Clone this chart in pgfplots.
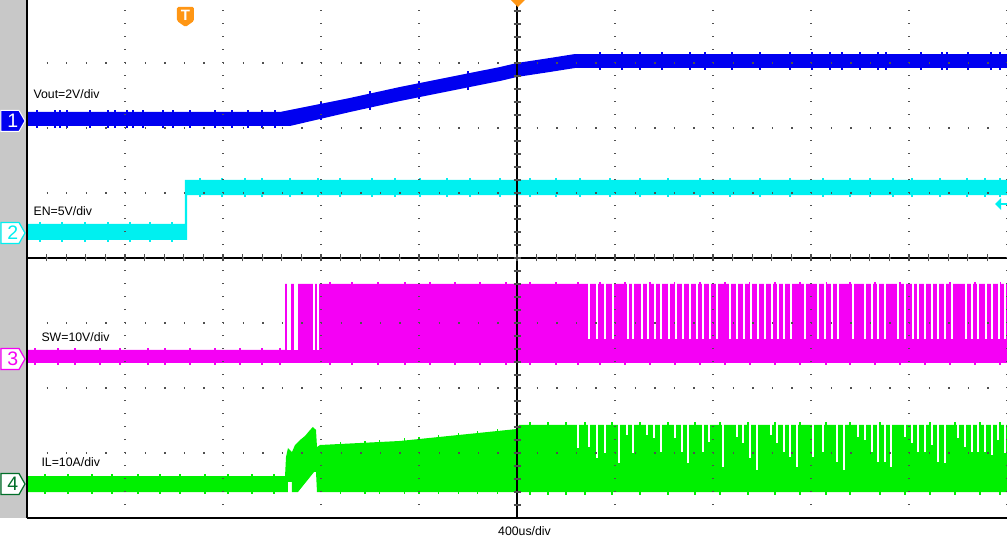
\documentclass[border=0pt]{standalone}
\usepackage{fontspec}
\setmainfont{Liberation Sans}
\usepackage{pgfplots}
\pgfplotsset{compat=1.18}

\definecolor{chone}{RGB}{0,0,240}
\definecolor{chtwo}{RGB}{0,240,240}
\definecolor{chthree}{RGB}{245,0,245}
\definecolor{chfour}{RGB}{0,240,0}
\definecolor{chfourdark}{RGB}{0,110,40}
\definecolor{trig}{RGB}{255,150,20}
\definecolor{strip}{RGB}{200,200,200}
\definecolor{griddot}{RGB}{80,80,80}

% screen is 10 x 8 divisions; x and y below are in divisions
\pgfplotsset{
  spikes/.style={draw=none, forget plot, error bars/.cd, y dir=both, y fixed=#1,
    error mark=none, error bar style={line width=1.3pt}},
  spikesx/.style={draw=none, forget plot, error bars/.cd, y dir=both, y explicit,
    error mark=none, error bar style={line width=1.3pt}},
  gaps/.style={draw=none, forget plot, error bars/.cd, y dir=minus, y explicit,
    error mark=none, error bar style={draw=white, line width=#1}},
}
\begin{document}
\begin{tikzpicture}
\begin{axis}[
  width=980pt, height=518pt, scale only axis,
  xmin=0, xmax=10, ymin=0, ymax=7.969,
  xtick={0,...,10}, ytick={0,...,7},
  xticklabels={}, yticklabels={},
  major tick length=0pt,
  grid=major,
  x grid style={griddot, line width=1.3pt, dash pattern=on 1.3pt off 11.7pt},
  y grid style={griddot, line width=1.3pt, dash pattern=on 1.3pt off 18.3pt},
  axis x line*=bottom, axis y line*=left,
  axis line style={black, line width=1.5pt},
  axis on top,
  clip=false,
]
% grey strip left of the screen
\fill[strip] (axis cs:-0.2755,0) rectangle (axis cs:-0.004,7.969);

% CH1 Vout
\addplot[fill=chone, draw=none] coordinates {
  (0,6.246) (2.582,6.246) (3.296,6.462) (3.806,6.631) (4.316,6.785)
  (4.827,6.938) (5,7.0) (5.337,7.077) (5.592,7.138) (10,7.138)
  (10,6.923) (5.592,6.923) (5.337,6.862) (5,6.785) (4.827,6.723)
  (4.316,6.569) (3.806,6.415) (3.296,6.246) (2.684,6.031) (0,6.031)
};
\addplot[chone, spikes=0.14] table {
0.102 6.138
0.286 6.138
0.337 6.138
0.408 6.138
0.643 6.138
0.827 6.138
0.898 6.138
1.020 6.138
1.082 6.138
1.184 6.138
1.388 6.138
1.490 6.138
1.663 6.138
1.918 6.138
2.092 6.138
2.255 6.138
2.398 6.138
2.531 6.138
};
\addplot[chone, spikes=0.14] table {
5.847 7.031
6.071 7.031
6.255 7.031
6.480 7.031
6.765 7.031
6.918 7.031
7.194 7.031
7.480 7.031
7.786 7.031
8.010 7.031
8.194 7.031
8.316 7.031
8.500 7.031
8.684 7.031
8.765 7.031
9.122 7.031
9.337 7.031
9.388 7.031
9.602 7.031
9.837 7.031
9.929 7.031
};
\addplot[chone, spikes=0.14] table {
3.0 6.257
3.5 6.422
4.0 6.582
4.5 6.732
};

% CH2 EN
\addplot[fill=chtwo, draw=none] coordinates {
  (0,4.523) (1.612,4.523) (1.612,5.2) (10,5.2) (10,4.969)
  (1.633,4.969) (1.633,4.277) (0,4.277)
};
\addplot[chtwo, spikes=0.15] table {
0.133 4.4
0.357 4.4
0.592 4.4
0.827 4.4
1.051 4.4
1.255 4.4
1.480 4.4
};
\addplot[chtwo, spikes=0.145] table {
1.765 5.085
1.990 5.085
2.224 5.085
2.398 5.085
2.684 5.085
2.969 5.085
3.194 5.085
3.520 5.085
3.755 5.085
4.010 5.085
4.286 5.085
4.520 5.085
4.827 5.085
5.133 5.085
5.398 5.085
5.643 5.085
5.949 5.085
6.255 5.085
6.541 5.085
6.867 5.085
7.173 5.085
7.480 5.085
7.786 5.085
8.122 5.085
8.398 5.085
8.602 5.085
8.837 5.085
9.031 5.085
9.316 5.085
9.592 5.085
9.776 5.085
9.929 5.085
};

% CH3 SW
\addplot[fill=chthree, draw=none] coordinates {
  (0,2.585) (2.633,2.585) (2.633,3.6) (10,3.6) (10,2.385) (0,2.385)
};
\addplot[chthree, spikes=0.135] table {
0.082 2.485
0.316 2.485
0.490 2.485
0.745 2.485
0.949 2.485
1.235 2.485
1.408 2.485
1.663 2.485
1.918 2.485
2.173 2.485
2.398 2.485
2.582 2.485
};
\addplot[chthree, spikes=0.645] table {
3.092 2.992
3.316 2.992
3.582 2.992
3.857 2.992
4.112 2.992
4.367 2.992
4.622 2.992
4.888 2.992
5.133 2.992
5.398 2.992
5.622 2.992
5.847 2.992
6.102 2.992
6.357 2.992
6.612 2.992
6.867 2.992
7.122 2.992
7.378 2.992
7.633 2.992
7.888 2.992
8.153 2.992
8.398 2.992
8.653 2.992
8.908 2.992
9.163 2.992
9.418 2.992
9.673 2.992
9.929 2.992
};
\addplot[gaps=3.5pt] table[x=x, y=y, y error=e] {
x y e
2.673 3.65 1.065
2.745 3.65 1.065
};
\addplot[gaps=1.6pt] table[x=x, y=y, y error=e] {
x y e
2.929 3.65 1.065
2.969 3.65 1.065
5.735 3.65 0.89
5.816 3.65 0.89
5.898 3.65 0.89
5.980 3.65 0.89
6.133 3.65 0.89
6.184 3.65 0.89
6.276 3.65 0.89
6.337 3.65 0.89
6.408 3.65 0.89
6.469 3.65 0.89
6.551 3.65 0.89
6.622 3.65 0.89
6.694 3.65 0.89
6.765 3.65 0.89
6.837 3.65 0.89
6.898 3.65 0.89
6.969 3.65 0.89
7.041 3.65 0.89
7.173 3.65 0.89
7.245 3.65 0.89
7.316 3.65 0.89
7.388 3.65 0.89
7.459 3.65 0.89
7.531 3.65 0.89
7.602 3.65 0.89
7.663 3.65 0.89
7.724 3.65 0.89
7.796 3.65 0.89
7.939 3.65 0.89
8.071 3.65 0.89
8.143 3.65 0.89
8.214 3.65 0.89
8.276 3.65 0.89
8.429 3.65 0.89
8.551 3.65 0.89
8.622 3.65 0.89
8.684 3.65 0.89
8.755 3.65 0.89
8.888 3.65 0.89
8.959 3.65 0.89
9.041 3.65 0.89
9.092 3.65 0.89
9.163 3.65 0.89
9.235 3.65 0.89
9.296 3.65 0.89
9.367 3.65 0.89
9.439 3.65 0.89
9.582 3.65 0.89
9.643 3.65 0.89
9.704 3.65 0.89
9.786 3.65 0.89
9.847 3.65 0.89
9.918 3.65 0.89
9.980 3.65 0.89
};

% CH4 IL
\addplot[fill=chfour, draw=none] coordinates {
  (0,0.646) (2.633,0.646) (2.643,0.938) (2.663,1.077) (2.704,1.015)
  (2.735,1.123) (2.786,1.2) (2.837,1.262) (2.888,1.354) (2.918,1.4)
  (2.949,1.354) (2.959,1.092) (2.990,1.123) (3.806,1.185) (5.0,1.369)
  (5.020,1.431) (10,1.431)
  (10,0.4) (2.959,0.4) (2.949,0.708) (2.929,0.708) (2.765,0.4)
  (2.704,0.4) (2.704,0.554) (2.663,0.554) (2.663,0.4) (0,0.4)
};
\addplot[chfour, spikes=0.155] table {
0.184 0.523
0.418 0.523
0.663 0.523
0.867 0.523
1.133 0.523
1.357 0.523
1.561 0.523
1.816 0.523
2.051 0.523
2.296 0.523
2.520 0.523
};
\addplot[chfour, spikesx] table[x=x, y=y, y error=e] {
x y e
3.20 0.770 0.405
3.45 0.778 0.413
3.60 0.785 0.420
3.85 0.796 0.431
4.00 0.807 0.442
4.20 0.823 0.458
4.40 0.838 0.473
4.60 0.854 0.489
4.80 0.869 0.505
};
\addplot[chfour, spikes=0.555] table {
5.133 0.915
5.316 0.915
5.500 0.915
5.694 0.915
5.969 0.915
6.255 0.915
6.541 0.915
6.816 0.915
7.071 0.915
7.357 0.915
7.633 0.915
7.888 0.915
8.153 0.915
8.398 0.915
8.704 0.915
8.959 0.915
9.214 0.915
9.469 0.915
9.724 0.915
9.929 0.915
};
\addplot[gaps=1.5pt] table[x=x, y=y, y error=e] {
x y e
5.622 1.47 0.393
5.735 1.47 0.378
5.816 1.47 0.547
5.898 1.47 0.47
6.041 1.47 0.624
6.122 1.47 0.193
6.184 1.47 0.47
6.327 1.47 0.193
6.398 1.47 0.239
6.469 1.47 0.455
6.612 1.47 0.239
6.684 1.47 0.455
6.745 1.47 0.624
6.898 1.47 0.455
6.959 1.47 0.301
7.102 1.47 0.685
7.245 1.47 0.224
7.306 1.47 0.316
7.378 1.47 0.547
7.449 1.47 0.732
7.592 1.47 0.193
7.653 1.47 0.316
7.724 1.47 0.455
7.786 1.47 0.532
7.857 1.47 0.685
8.020 1.47 0.532
8.122 1.47 0.455
8.265 1.47 0.608
8.337 1.47 0.732
8.480 1.47 0.224
8.551 1.47 0.27
8.622 1.47 0.455
8.684 1.47 0.608
8.755 1.47 0.608
8.816 1.47 0.685
8.959 1.47 0.224
9.031 1.47 0.316
9.092 1.47 0.455
9.163 1.47 0.455
9.235 1.47 0.347
9.296 1.47 0.608
9.367 1.47 0.624
9.500 1.47 0.239
9.571 1.47 0.378
9.643 1.47 0.455
9.704 1.47 0.455
9.776 1.47 0.455
9.847 1.47 0.501
9.908 1.47 0.27
9.980 1.47 0.47
};

% centre graticule lines with fine ticks
\draw[black, line width=1.3pt] (axis cs:5,0) -- (axis cs:5,7.969);
\draw[black, line width=1.3pt] (axis cs:0,4) -- (axis cs:10,4);
\pgfplotsinvokeforeach{0.2,0.4,...,7.81}{
  \draw[griddot, line width=1.2pt] (axis cs:5,#1) ++(-3.5pt,0) -- ++(7pt,0);
}
\pgfplotsinvokeforeach{0.2,0.4,...,9.81}{
  \draw[griddot, line width=1.2pt] (axis cs:#1,4) ++(0,-3.5pt) -- ++(0,7pt);
}

% channel labels
\node[anchor=base west, font=\fontsize{12.3}{14}\selectfont] at (axis cs:0.031,6.446) {Vout=2V/div};
\node[anchor=base west, font=\fontsize{12.3}{14}\selectfont] at (axis cs:0.031,4.646) {EN=5V/div};
\node[anchor=base west, font=\fontsize{12.3}{14}\selectfont] at (axis cs:0.112,2.708) {SW=10V/div};
\node[anchor=base west, font=\fontsize{12.3}{14}\selectfont] at (axis cs:0.112,0.8) {IL=10A/div};
\node[anchor=base, font=\fontsize{12.3}{14}\selectfont] at (axis cs:5.077,-0.262) {400us/div};

% channel markers
\filldraw[fill=chone, draw=white, line width=1pt] (axis cs:0,6.108) ++(-26pt,10.5pt) -- ++(18pt,0) -- ++(6pt,-10.5pt) -- ++(-6pt,-10.5pt) -- ++(-18pt,0) -- cycle;
\node[text=white, font=\fontsize{19.5}{19.5}\selectfont] at (axis cs:-0.146,6.108) {1};
\filldraw[fill=white, draw=chtwo, line width=1.2pt] (axis cs:0,4.385) ++(-26pt,10.5pt) -- ++(18pt,0) -- ++(6pt,-10.5pt) -- ++(-6pt,-10.5pt) -- ++(-18pt,0) -- cycle;
\node[text=chtwo, font=\fontsize{19.5}{19.5}\selectfont] at (axis cs:-0.146,4.385) {2};
\filldraw[fill=white, draw=chthree, line width=1.2pt] (axis cs:0,2.446) ++(-26pt,10.5pt) -- ++(18pt,0) -- ++(6pt,-10.5pt) -- ++(-6pt,-10.5pt) -- ++(-18pt,0) -- cycle;
\node[text=chthree, font=\fontsize{19.5}{19.5}\selectfont] at (axis cs:-0.146,2.446) {3};
\filldraw[fill=white, draw=chfourdark, line width=1.2pt] (axis cs:0,0.523) ++(-26pt,10.5pt) -- ++(18pt,0) -- ++(6pt,-10.5pt) -- ++(-6pt,-10.5pt) -- ++(-18pt,0) -- cycle;
\node[text=chfourdark, font=\fontsize{19.5}{19.5}\selectfont] at (axis cs:-0.146,0.523) {4};

% trigger markers
\fill[trig, rounded corners=1.5pt] (axis cs:1.617,7.708) ++(-8.5pt,10pt) -- ++(17pt,0) -- ++(0,-14pt) -- ++(-8.5pt,-6pt) -- ++(-8.5pt,6pt) -- cycle;
\node[text=white, font=\bfseries\fontsize{15}{15}\selectfont] at (axis cs:1.617,7.74) {T};
\fill[trig] (axis cs:5.01,7.969) ++(-7pt,0) -- ++(14pt,0) -- ++(-7pt,-7pt) -- cycle;
\fill[chtwo] (axis cs:9.878,4.831) -- (axis cs:9.939,4.923) -- (axis cs:9.939,4.738) -- cycle;
\draw[chtwo, line width=2pt] (axis cs:9.92,4.831) -- (axis cs:10,4.831);

\coordinate (bl) at (axis cs:-0.2755,-0.3385);
\coordinate (tr) at (axis cs:10,7.969);
\end{axis}
\pgfresetboundingbox
\path[use as bounding box] (bl) rectangle (tr);
\end{tikzpicture}
\end{document}
